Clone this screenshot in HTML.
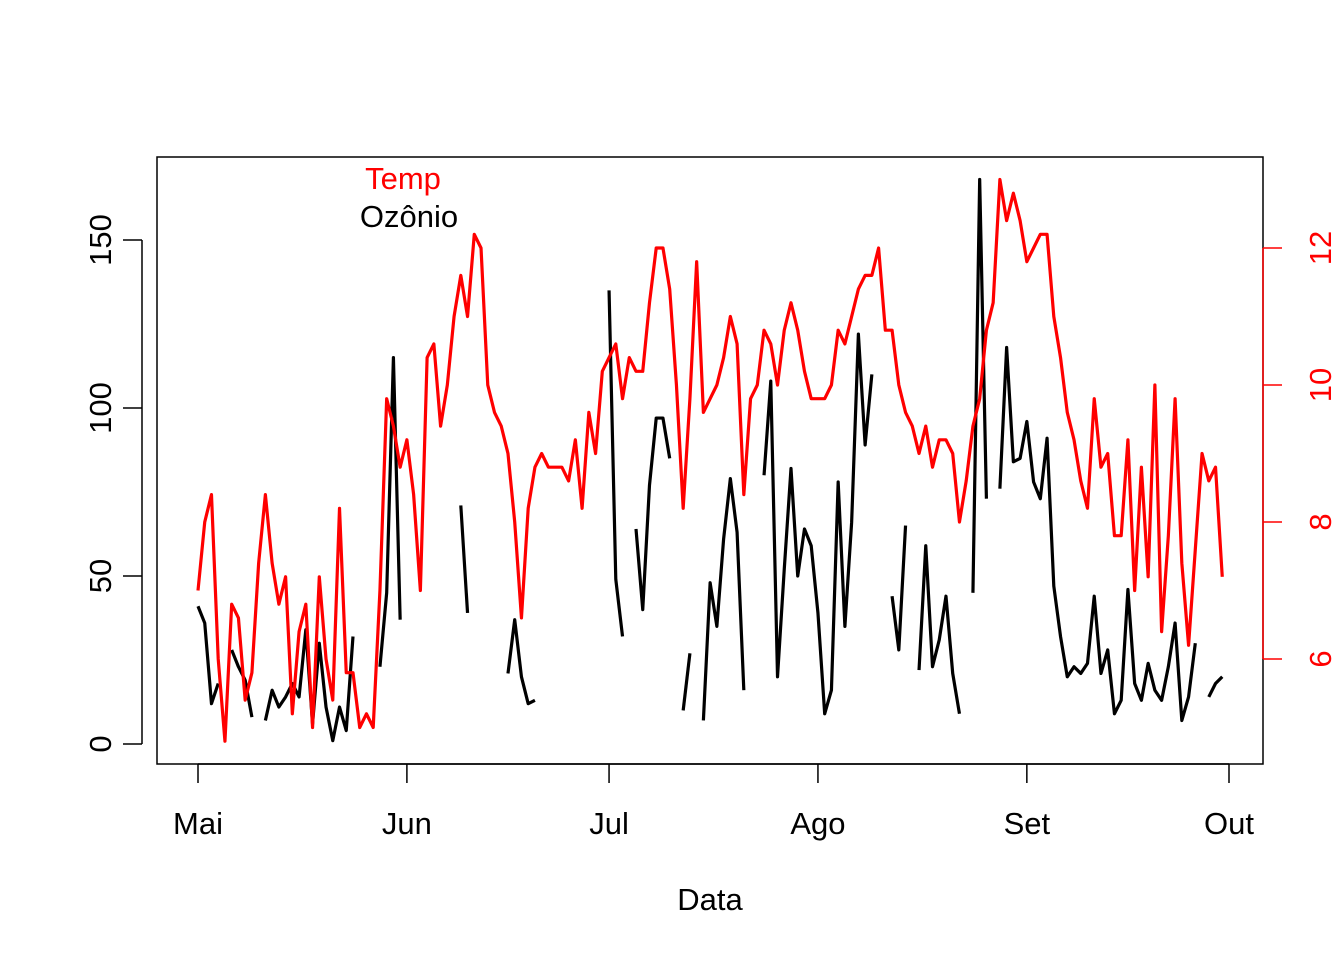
<!DOCTYPE html>
<html><head><meta charset="utf-8"><style>
body{margin:0;background:#fff}
svg text{font-family:"Liberation Sans",Arial,sans-serif}
</style></head><body>
<svg id="chart" width="1344" height="960" xmlns="http://www.w3.org/2000/svg">
<rect x="157" y="157" width="1106" height="607" fill="none" stroke="#000" stroke-width="1.5"/>
<g id="axes"></g>
<g id="series"></g>
<text x="403" y="189" font-size="31" fill="#ff0000" text-anchor="middle">Temp</text>
<text x="409" y="227" font-size="31" fill="#000" text-anchor="middle">Ozônio</text>
<text x="710" y="910" font-size="31" text-anchor="middle">Data</text>
</svg>
<script>
const ozone=[41,36,12,18,null,28,23,19,8,null,7,16,11,14,18,14,34,6,30,11,1,11,4,32,null,null,null,23,45,115,37,
null,null,null,null,null,null,29,null,71,39,null,null,23,null,null,21,37,20,12,13,null,null,null,null,null,null,null,null,null,null,
135,49,32,null,64,40,77,97,97,85,null,10,27,null,7,48,35,61,79,63,16,null,null,80,108,20,52,82,50,64,59,
39,9,16,78,35,66,122,89,110,null,null,44,28,65,null,22,59,23,31,44,21,9,null,45,168,73,null,76,118,84,85,
96,78,73,91,47,32,20,23,21,24,44,21,28,9,13,46,18,13,24,16,13,23,36,7,14,30,null,14,18,20];
const temp=[67,72,74,62,56,66,65,59,61,69,74,69,66,68,58,64,66,57,68,62,59,73,61,61,57,58,57,67,81,79,76,
78,74,67,84,85,79,82,87,90,87,93,92,82,80,79,77,72,65,73,76,77,76,76,76,75,78,73,80,77,83,
84,85,81,84,83,83,88,92,92,89,82,73,81,91,80,81,82,84,87,85,74,81,82,86,85,82,86,88,86,83,81,
81,81,82,86,85,87,89,90,90,92,86,86,82,80,79,77,79,76,78,78,77,72,75,79,81,86,88,97,94,96,94,
91,92,93,93,87,84,80,78,75,73,81,76,77,71,71,78,67,76,68,82,64,71,81,69,63,70,77,75,76,68];
const monthLabels=["Mai","Jun","Jul","Ago","Set","Out"];
const monthDays=[1,32,62,93,124,154];
const leftTicks=[0,50,100,150];
const rightTicks=[6,8,10,12];
const NS="http://www.w3.org/2000/svg";
const xs=d=>198+(d-1)*(1229-198)/153;
const yl=v=>744-v*(744-240)/150;
const yr=v=>659-(v-6)*(659-248)/6;
const tempScaled=t=>(t-32)/5;
function mk(tag,attrs,parent){const e=document.createElementNS(NS,tag);for(const k in attrs)e.setAttribute(k,attrs[k]);parent.appendChild(e);return e;}
const ax=document.getElementById('axes'),se=document.getElementById('series');
let l=mk('line',{x1:xs(1),x2:xs(154),y1:764,y2:764,stroke:'#000','stroke-width':1.5},ax);


monthDays.forEach((d,i)=>{
 let t=mk('line',{x1:xs(d),x2:xs(d),y1:764,y2:783,stroke:'#000','stroke-width':1.5},ax);
 
 
 let tx=mk('text',{x:xs(d),y:834,'font-size':31,'text-anchor':'middle'},ax);tx.textContent=monthLabels[i];
 
 
});
l=mk('line',{x1:142,x2:142,y1:yl(0),y2:yl(150),stroke:'#000','stroke-width':1.5},ax);


leftTicks.forEach(v=>{
 let t=mk('line',{x1:123,x2:142,y1:yl(v),y2:yl(v),stroke:'#000','stroke-width':1.5},ax);
 
 
 let tx=mk('text',{x:111,y:yl(v),'font-size':31,'text-anchor':'middle',transform:`rotate(-90 111 ${yl(v)})`},ax);tx.textContent=v;
 
 
});
l=mk('line',{x1:1263,x2:1263,y1:yr(6),y2:yr(12),stroke:'#ff0000','stroke-width':1.5},ax);


rightTicks.forEach(v=>{
 let t=mk('line',{x1:1263,x2:1282,y1:yr(v),y2:yr(v),stroke:'#ff0000','stroke-width':1.5},ax);
 
 
 let tx=mk('text',{x:1331,y:yr(v),'font-size':31,fill:'#ff0000','text-anchor':'middle',transform:`rotate(-90 1331 ${yr(v)})`},ax);tx.textContent=v;
 
 
});
let seg=[];
function flush(){if(seg.length>1){let p=mk('polyline',{points:seg.join(' '),fill:'none',stroke:'#000','stroke-width':3.2,'stroke-linejoin':'round'},se);
 
 }seg=[];}
ozone.forEach((v,i)=>{if(v==null)flush();else seg.push(xs(i+1)+','+yl(v));});flush();
let pts=temp.map((t,i)=>xs(i+1)+','+yr(tempScaled(t))).join(' ');
let tp=mk('polyline',{points:pts,fill:'none',stroke:'#ff0000','stroke-width':3.2,'stroke-linejoin':'round'},se);


</script>
</body></html>
